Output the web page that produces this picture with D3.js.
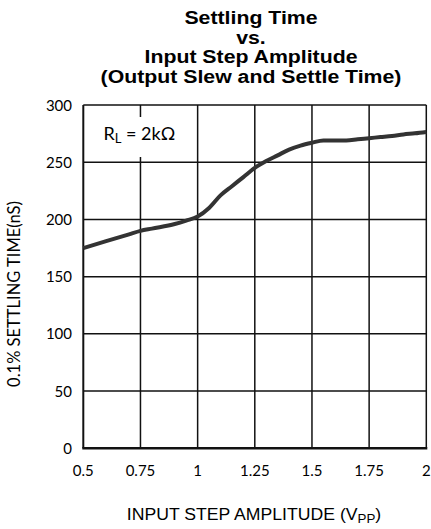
<!DOCTYPE html>
<html><head><meta charset="utf-8">
<script src="https://cdn.jsdelivr.net/npm/d3@7"></script>
<style>html,body{margin:0;padding:0;background:#fff;}svg{display:block;}</style>
</head><body>
<svg id="c" width="431" height="529"></svg>
<script>
const amplitude = [0.5,0.6,0.7,0.75,0.8,0.9,0.95,1.0,1.05,1.1,1.15,1.2,1.25,1.3,1.35,1.4,1.45,1.5,1.55,1.6,1.65,1.7,1.75,1.8,1.85,1.9,1.95,2.0];
const settling = [175,181,187,190,192,196,199,202.5,210,221,229,237,245,251,256,261,264.5,267,269,269,269,270,271,272,273,274.3,275.3,276.5];
const xTicks = [0.5,0.75,1,1.25,1.5,1.75,2];
const yTicks = [0,50,100,150,200,250,300];
const titleLines = ["Settling Time","vs.","Input Step Amplitude","(Output Slew and Settle Time)"];

const svg = d3.select("#c");
const L=83.3, R=426.3, T=105, B=448.3;
const x = d3.scaleLinear().domain([0.5,2]).range([L,R]);
const y = d3.scaleLinear().domain([0,300]).range([B,T]);
const lab = "Lato, 'Open Sans', sans-serif";
const arial = "'Liberation Sans', Arial, sans-serif";

// title
titleLines.forEach((t,i)=>{
  svg.append("text").attr("transform",`translate(251,${24+i*19.5}) scale(1.12,1)`)
    .attr("text-anchor","middle").attr("font-family",arial)
    .attr("font-weight","bold").attr("font-size",19).attr("fill","#000").text(t);
});

// grid
const g = svg.append("g");
g.selectAll("line.v").data(xTicks.slice(1)).join("line").attr("class","v")
  .attr("x1",d=>x(d)).attr("x2",d=>x(d)).attr("y1",T).attr("y2",B)
  .attr("stroke","#111").attr("stroke-width",1.5);
g.selectAll("line.h").data(yTicks.slice(1)).join("line").attr("class","h")
  .attr("x1",L).attr("x2",R).attr("y1",d=>y(d)).attr("y2",d=>y(d))
  .attr("stroke","#111").attr("stroke-width",1.5);

// axes lines
svg.append("line").attr("x1",L).attr("x2",L).attr("y1",T).attr("y2",B).attr("stroke","#111").attr("stroke-width",2);
svg.append("line").attr("x1",L-1).attr("x2",R+1).attr("y1",B).attr("y2",B).attr("stroke","#111").attr("stroke-width",2.5);

// R_L label with white box
svg.append("rect").attr("x",100).attr("y",117).attr("width",82).attr("height",40).attr("fill","#fff");
const rl = svg.append("text").attr("x",103.5).attr("y",139.5).attr("font-family",lab).attr("font-size",18).attr("fill","#000");
rl.append("tspan").text("R");
rl.append("tspan").attr("font-size",13).attr("dy",3).text("L");
rl.append("tspan").attr("dy",-3).text(" = 2k\u03A9");

// curve
svg.append("path").datum(amplitude.map((a,i)=>[a,settling[i]]))
  .attr("fill","none").attr("stroke","#333").attr("stroke-width",4).attr("stroke-linejoin","round")
  .attr("d",d3.line().x(d=>x(d[0])).y(d=>y(d[1])).curve(d3.curveMonotoneX));

// tick labels
svg.append("g").selectAll("text").data(xTicks).join("text")
  .attr("x",d=>x(d)).attr("y",475.5).attr("text-anchor","middle").attr("font-family",lab).attr("font-size",15)
  .text(d=>d3.format("")(d));
svg.append("g").selectAll("text").data(yTicks).join("text")
  .attr("x",72).attr("y",d=>y(d)+5.5).attr("text-anchor","end").attr("font-family",lab).attr("font-size",15)
  .text(d=>d);

// x title
const xt = svg.append("text").attr("transform","translate(254,519.5) scale(1.07,1)").attr("text-anchor","middle")
  .attr("font-family",arial).attr("font-size",16.5).attr("fill","#000");
xt.append("tspan").text("INPUT STEP AMPLITUDE (V");
xt.append("tspan").attr("font-size",12.5).attr("dy",3).text("PP");
xt.append("tspan").attr("dy",-3).text(")");

// y title
svg.append("text").attr("transform","translate(20,294) rotate(-90)").attr("text-anchor","middle")
  .attr("font-family",lab).attr("font-size",16.5).text("0.1% SETTLING TIME(nS)");
</script>
</body></html>
